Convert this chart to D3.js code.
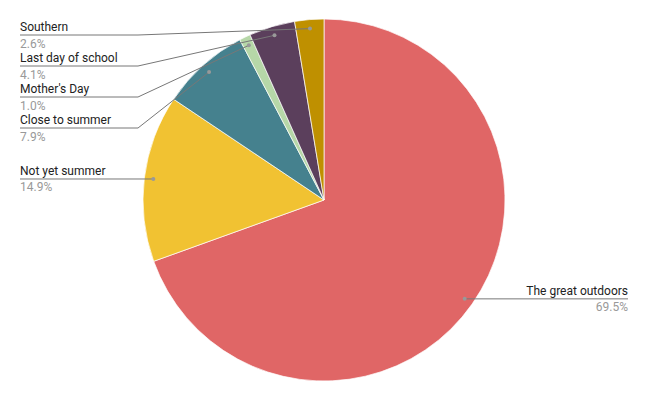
<!DOCTYPE html>
<html><head><meta charset="utf-8">
<script src="https://cdn.jsdelivr.net/npm/d3@7"></script>
<style>body{margin:0;background:#fff;} text{font-family:Roboto,Arial,sans-serif;}</style>
</head><body><svg id="c" width="649" height="402"></svg>
<script>
const categories = ["The great outdoors","Not yet summer","Close to summer","Mother's Day","Last day of school","Southern"];
const values = [69.5,14.9,7.9,1.0,4.1,2.6];
const colors = ["#e06666","#f1c232","#45818e","#b6d7a8","#5b3f5c","#bf9000"];

const svg = d3.select("#c");
const cx = 324, cy = 200, R = 181;
const g = svg.append("g").attr("transform",`translate(${cx},${cy})`);
const pie = d3.pie().sort(null).value(d=>d.v);
const data = categories.map((c,i)=>({c, v:values[i], col:colors[i]}));
const arcs = pie(data);
const arc = d3.arc().innerRadius(0).outerRadius(R);
g.selectAll("path.s").data(arcs).join("path").attr("class","s")
  .attr("d",arc).attr("fill",d=>d.data.col).attr("stroke","#fff").attr("stroke-width",0.7);

const dotArc = d3.arc().innerRadius(R*0.95).outerRadius(R*0.95);
const items = arcs.map(a=>{
  const [x,y] = dotArc.centroid(a);
  const mid = (a.startAngle+a.endAngle)/2;
  return {a, x:x+cx, y:y+cy, left: mid>Math.PI};
});
// layout left labels
const left = items.filter(d=>d.left).sort((p,q)=>p.y-q.y);
let prev = -Infinity;
left.forEach(d=>{ d.ly = Math.max(d.y, prev+31, 35); prev = d.ly; });
items.filter(d=>!d.left).forEach(d=>{ d.ly = d.y; });

const fmt = v=>v.toFixed(1)+"%";
items.forEach(d=>{
  const lg = svg.append("g");
  let path;
  if (d.left) path = `M20,${d.ly}H138L${d.x},${d.y}`;
  else path = `M628,${d.ly}H${Math.max(d.x,465)}L${d.x},${d.y}`;
  lg.append("path").attr("d",path).attr("fill","none").attr("stroke","#777").attr("stroke-width",1);
  lg.append("circle").attr("cx",d.x).attr("cy",d.y).attr("r",2).attr("fill","#999");
  const tx = d.left?20:628, anchor = d.left?"start":"end";
  lg.append("text").attr("x",tx).attr("y",d.ly-4).attr("text-anchor",anchor)
    .attr("font-size",12).attr("fill","#222").text(d.a.data.c);
  lg.append("text").attr("x",tx).attr("y",d.ly+12.5).attr("text-anchor",anchor)
    .attr("font-size",12).attr("fill","#999").text(fmt(d.a.data.v));
});
</script></body></html>
